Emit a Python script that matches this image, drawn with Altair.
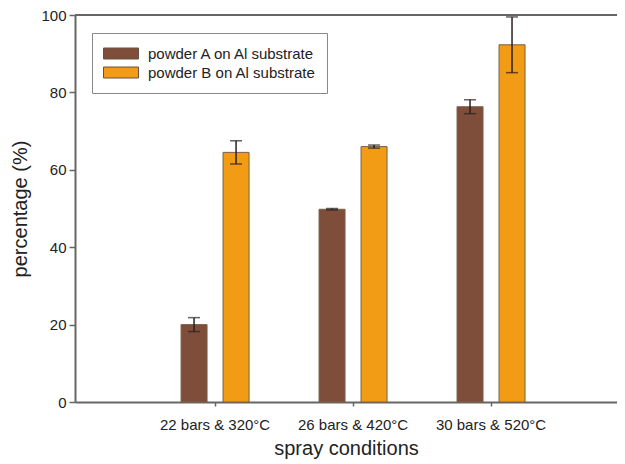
import altair as alt
import pandas as pd

conditions = ["22 bars & 320°C", "26 bars & 420°C", "30 bars & 520°C"]
series = ["powder A on Al substrate", "powder B on Al substrate"]
a_mean = [20.0, 49.8, 76.3]
a_err = [1.8, 0.2, 1.8]
b_mean = [64.5, 66.0, 92.3]
b_err = [3.0, 0.4, 7.2]
y_ticks = [0, 20, 40, 60, 80, 100]
Y_MAX = 100

rows = []
for i, c in enumerate(conditions):
    rows.append({"cond": c, "series": series[0], "v": a_mean[i],
                 "lo": a_mean[i] - a_err[i], "hi": a_mean[i] + a_err[i]})
    rows.append({"cond": c, "series": series[1], "v": b_mean[i],
                 "lo": b_mean[i] - b_err[i], "hi": b_mean[i] + b_err[i]})
df = pd.DataFrame(rows)

FONT = "Liberation Sans"
GRAY = "#666666"

x_enc = alt.X("cond:N", sort=conditions,
              scale=alt.Scale(paddingInner=0, paddingOuter=0.464, align=0.555),
              axis=alt.Axis(title="spray conditions", labelAngle=0, tickSize=4,
                            tickColor=GRAY, tickWidth=1.5, domainColor=GRAY,
                            domainWidth=2, labelFontSize=15, labelPadding=11,
                            labelColor="#222", titleFontSize=20,
                            titleFontWeight="normal", titlePadding=6,
                            titleColor="#222", labelFont=FONT, titleFont=FONT))
xoff = alt.XOffset("series:N", sort=series,
                   scale=alt.Scale(paddingInner=0.381, paddingOuter=0.833))
y_scale = alt.Scale(domain=[0, Y_MAX], nice=False)
y_axis = alt.Axis(title="percentage (%)", values=y_ticks, grid=False,
                  tickSize=6, tickColor=GRAY, tickWidth=1.5, domainColor=GRAY,
                  domainWidth=2, labelFontSize=15, labelPadding=3,
                  labelColor="#222", titleFontSize=20, titleFontWeight="normal",
                  titlePadding=10, titleColor="#222", labelFont=FONT, titleFont=FONT)

color = alt.Color("series:N", sort=series,
                  scale=alt.Scale(domain=series, range=["#7e4e3a", "#f29b14"]),
                  legend=alt.Legend(title=None, orient="none", legendX=17, legendY=18,
                                    fillColor="white", strokeColor="#888888",
                                    padding=11, clipHeight=19,
                                    symbolType="M-1,-0.3143H1V0.3143H-1Z",
                                    symbolSize=1225, symbolStrokeColor="#6a5040",
                                    symbolStrokeWidth=1, symbolOpacity=1,
                                    labelFontSize=15, labelFont=FONT, labelLimit=0,
                                    labelColor="#222", labelOffset=9,
                                    rowPadding=0))

base = alt.Chart(df)

bars = base.mark_bar(stroke="#7a6048", strokeWidth=1).encode(
    x=x_enc, xOffset=xoff,
    y=alt.Y("v:Q", scale=y_scale, axis=y_axis),
    color=color,
)
rules = base.mark_rule(color="#2a2020", strokeWidth=1.5).encode(
    x=x_enc, xOffset=xoff, y="lo:Q", y2="hi:Q")
caps_hi = base.mark_tick(color="#2a2020", thickness=1.5, size=12, orient="horizontal").encode(
    x=x_enc, xOffset=xoff, y="hi:Q")
caps_lo = base.mark_tick(color="#2a2020", thickness=1.5, size=12, orient="horizontal").encode(
    x=x_enc, xOffset=xoff, y="lo:Q")
top = alt.Chart(pd.DataFrame({"t": [Y_MAX]})).mark_rule(color=GRAY, strokeWidth=2).encode(
    y=alt.Y("t:Q", scale=y_scale))

chart = alt.layer(bars, rules, caps_hi, caps_lo, top).properties(
    width=542, height=387,
    autosize=alt.AutoSizeParams(type="none"),
    padding={"left": 67, "top": 7, "right": 0, "bottom": 58},
).configure_view(stroke=None)

chart.save("out.html", embed_options={"renderer": "svg", "actions": False})
